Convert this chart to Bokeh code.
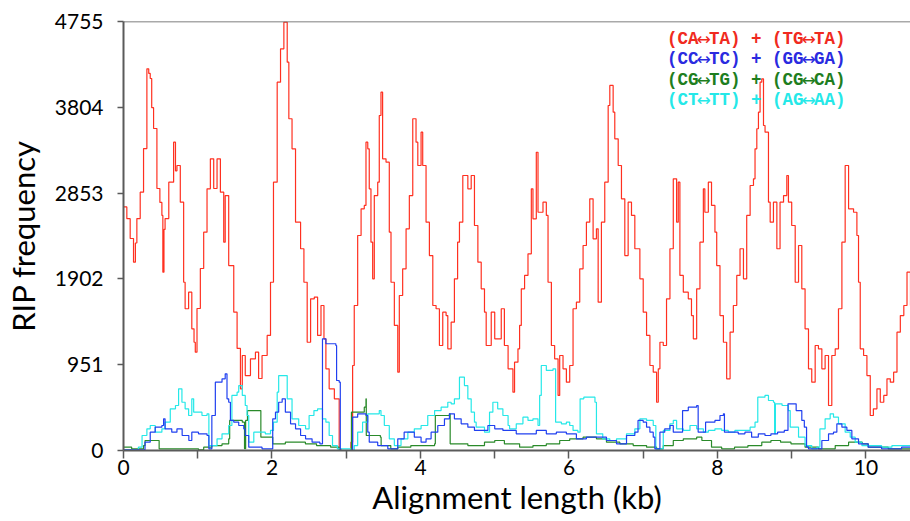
import math
from bokeh.plotting import figure
from bokeh.models import FixedTicker, Span, Range1d
from bokeh.core.properties import value
from bokeh.embed import file_html
from bokeh.resources import INLINE

# ---------------- data ----------------
red_x = [0.0, 0.045, 0.09, 0.135, 0.16, 0.18, 0.225, 0.27, 0.315, 0.34, 0.36, 0.38, 0.405, 0.45, 0.49,
         0.517, 0.53, 0.545, 0.56, 0.61, 0.675, 0.70, 0.72, 0.765, 0.81, 0.83, 0.877, 0.92, 0.95, 0.967,
         0.99, 1.035, 1.08, 1.125, 1.17, 1.215, 1.26, 1.305, 1.35, 1.37, 1.417, 1.485, 1.53, 1.575, 1.6,
         1.64, 1.71, 1.777, 1.82, 1.866, 1.935, 1.98, 2.02, 2.07, 2.115, 2.16, 2.205, 2.227, 2.27, 2.317,
         2.385, 2.43, 2.474, 2.52, 2.57, 2.614, 2.66, 2.70, 2.726, 2.77, 2.84, 2.905, 2.93, 3.04, 3.063,
         3.086, 3.108, 3.154, 3.2, 3.243, 3.266, 3.29, 3.31, 3.333, 3.356, 3.378, 3.424, 3.445, 3.468,
         3.49, 3.536, 3.58, 3.603, 3.648, 3.694, 3.715, 3.76, 3.806, 3.85, 3.896, 3.94, 3.964, 4.008,
         4.03, 4.075, 4.12, 4.166, 4.21, 4.255, 4.30, 4.345, 4.368, 4.413, 4.457, 4.50, 4.525, 4.57,
         4.638, 4.683, 4.727, 4.773, 4.818, 4.862, 4.885, 4.953, 5.0, 5.088, 5.13, 5.18, 5.245, 5.267,
         5.313, 5.335, 5.358, 5.402, 5.448, 5.493, 5.515, 5.56, 5.583, 5.65, 5.695, 5.718, 5.763, 5.807,
         5.853, 5.875, 5.92, 5.965, 6.01, 6.055, 6.10, 6.145, 6.19, 6.235, 6.28, 6.325, 6.37, 6.393,
         6.437, 6.482, 6.528, 6.55, 6.595, 6.617, 6.663, 6.707, 6.752, 6.797, 6.842, 6.887, 6.955, 7.0,
         7.045, 7.09, 7.135, 7.18, 7.203, 7.225, 7.27, 7.314, 7.36, 7.405, 7.45, 7.472, 7.494, 7.54,
         7.607, 7.65, 7.675, 7.72, 7.764, 7.81, 7.83, 7.877, 7.92, 7.966, 7.99, 8.034, 8.08, 8.124, 8.17,
         8.214, 8.26, 8.304, 8.35, 8.394, 8.44, 8.485, 8.506, 8.53, 8.552, 8.574, 8.597, 8.62, 8.641,
         8.687, 8.71, 8.754, 8.80, 8.843, 8.89, 8.934, 8.956, 9.0, 9.047, 9.092, 9.136, 9.18, 9.226,
         9.27, 9.316, 9.36, 9.406, 9.45, 9.496, 9.54, 9.586, 9.63, 9.676, 9.72, 9.766, 9.833, 9.878,
         9.9, 9.923, 9.968, 10.013, 10.058, 10.10, 10.148, 10.193, 10.24, 10.283, 10.328, 10.373,
         10.418, 10.463, 10.51, 10.553, 10.6, 10.65]
red_y = [2700, 2570, 2350, 2087, 2300, 2571, 2863, 3347, 4231, 4180, 4123, 3800, 3569, 2904, 2750,
         2605, 1976, 2450, 2571, 2974, 3417, 3100, 3159, 2752, 1865, 1571, 1755, 1349, 1200, 1090,
         1574, 2017, 2420, 2900, 3233, 2904, 3233, 2863, 2309, 2826, 2050, 1533, 1131, 684, 1053,
         831, 1016, 1090, 798, 1053, 1275, 1865, 2974, 4082, 4452, 4747, 4304, 3677, 3344, 2531,
         2236, 1865, 1200, 1681, 1700, 1275, 1607, 1238, 905, 684, 573, 19, 0, 0, 92,
         942, 1607, 2383, 2679, 2716, 3417, 3344, 2900, 2309, 1903, 2826, 2974, 3713, 3972,
         3233, 3196, 2420, 1865, 1386, 868, 1718, 2014, 2457, 2826, 3677, 3417, 3159, 3528,
         3159, 2531, 2161, 1607, 1571, 1164, 1533, 1496, 1127, 1422, 1903, 2309, 2531, 3048,
         2900, 3048, 2494, 2087, 1792, 1533, 1164, 1533, 1238, 1571, 1164, 905, 646, 979,
         1127, 1386, 1792, 1940, 2180, 2900, 2568, 3306, 2641, 2752, 2605, 1865, 1164, 1016,
         610, 1053, 905, 757, 942, 1571, 1644, 2014, 2272, 2531, 2790, 2346, 2457, 1644,
         2531, 2974, 3824, 4046, 3750, 3455, 3159, 2790, 2161, 2752, 2605, 2236, 1903, 1533,
         1275, 942, 868, 535, 905, 1200, 1164, 1681, 2236, 3011, 2531, 2974, 1940, 1755,
         1681, 1496, 1238, 1792, 2309, 2900, 2641, 2974, 2716, 2420, 2050, 1496, 1200, 794, 1311,
         1607, 1940, 2236, 1903, 2605, 2937, 3011, 3344, 3566, 3750, 4082, 4120, 3602, 3528,
         2752, 2531, 2752, 2236, 2752, 2826, 3048, 2752, 2494, 1865, 2272, 1792, 1349, 905,
         757, 1164, 1127, 905, 1053, 499, 1053, 1127, 1571, 2309, 3159, 2679, 2641, 2383,
         1865, 1127, 1053, 831, 388, 462, 684, 535, 610, 794, 757, 868,
         1311, 1496, 1607, 1976, 1607, 1650]

blue_x = [0.0, 0.25, 0.29, 0.36, 0.427, 0.517, 0.54, 0.56, 0.65, 0.72, 0.79, 0.88, 0.92, 1.01, 1.125,
          1.15, 1.19, 1.237, 1.327, 1.37, 1.394, 1.417, 1.44, 1.485, 1.552, 1.62, 1.64, 1.687, 1.866,
          2.0, 2.01, 2.047, 2.09, 2.137, 2.18, 2.25, 2.317, 2.385, 2.452, 2.54, 2.645, 2.68, 2.726,
          2.86, 2.87, 2.905, 2.92, 3.06, 3.086, 3.154, 3.266, 3.29, 3.31, 3.424, 3.56, 3.625, 3.694,
          3.78, 3.87, 3.917, 4.008, 4.075, 4.143, 4.233, 4.323, 4.39, 4.457, 4.548, 4.638, 4.727,
          4.818, 4.908, 5.0, 5.11, 5.29, 5.425, 5.56, 5.695, 5.83, 5.965, 6.10, 6.235, 6.37, 6.505,
          6.64, 6.775, 6.887, 6.93, 7.0, 7.045, 7.09, 7.135, 7.157, 7.203, 7.225, 7.29, 7.36, 7.405,
          7.494, 7.53, 7.607, 7.72, 7.74, 7.84, 7.966, 8.034, 8.08, 8.094, 8.19, 8.28, 8.37, 8.46,
          8.55, 8.64, 8.72, 8.81, 8.90, 8.95, 9.06, 9.136, 9.17, 9.2, 9.226, 9.34, 9.406, 9.496,
          9.563, 9.608, 9.676, 9.743, 9.81, 9.9, 10.03, 10.21, 10.48, 10.65]
blue_y = [8, 8, 92, 203, 258, 277, 351, 240, 203, 240, 166, 111, 203, 185, 166,
          19, 388, 757, 794, 850, 573, 535, 333, 314, 277, 240, 166, 37, 19,
          19, 351, 425, 535, 573, 425, 296, 240, 166, 129, 92, 74, 1238, 1183,
          1164, 776, 757, 0, 0, 369, 407, 388, 203, 92, 55, 19, 19, 129,
          203, 203, 148, 92, 129, 203, 277, 351, 407, 351, 296, 258, 222,
          222, 277, 240, 222, 185, 185, 222, 185, 203, 185, 129, 148, 148, 111,
          74, 166, 203, 333, 314, 258, 203, 148, 19, 19, 203, 240, 277, 203,
          203, 443, 480, 499, 203, 314, 333, 388, 407, 203, 203, 185, 203, 148,
          185, 166, 185, 203, 222, 517, 443, 333, 258, 40, 19, 19, 111, 185,
          203, 296, 258, 222, 129, 74, 37, 19, 37, 37]

green_x = [0.0, 0.11, 0.27, 0.29, 0.47, 0.48, 1.01, 1.08, 1.19, 1.327, 1.417, 1.43, 1.60, 1.63, 1.645,
           1.67, 1.85, 2.0, 2.01, 2.18, 2.45, 2.6, 2.79, 2.905, 3.06, 3.07, 3.243, 3.266, 3.27, 3.46,
           3.47, 3.60, 3.694, 3.87, 4.19, 4.20, 4.37, 4.39, 4.40, 4.638, 4.862, 5.0, 5.13, 5.335,
           5.515, 5.695, 5.875, 6.01, 6.19, 6.37, 6.505, 6.685, 6.865, 7.045, 7.18, 7.27, 7.405,
           7.54, 7.72, 7.79, 7.92, 8.057, 8.23, 8.41, 8.597, 8.72, 8.85, 8.99, 9.18, 9.36, 9.586,
           9.766, 9.95, 10.03, 10.3, 10.65]
green_y = [37, 19, 55, 111, 111, 19, 8, 37, 55, 74, 129, 333, 314, 20, 333,
           443, 148, 148, 74, 92, 74, 55, 37, 0, 0, 425, 480, 573, 166, 148,
           55, 19, 37, 55, 74, 388, 388, 407, 74, 55, 92, 111, 74, 37,
           55, 74, 111, 129, 148, 129, 92, 74, 55, 37, 19, 55, 111,
           129, 148, 111, 37, 19, 37, 55, 92, 111, 92, 74, 37, 19, 55,
           92, 74, 37, 19, 19]

cyan_x = [0.0, 0.2, 0.25, 0.315, 0.36, 0.427, 0.517, 0.56, 0.63, 0.70, 0.742, 0.787, 0.83, 0.877, 0.92,
          0.945, 1.01, 1.057, 1.125, 1.15, 1.19, 1.26, 1.327, 1.417, 1.46, 1.53, 1.552, 1.60, 1.64,
          1.664, 1.687, 1.755, 1.82, 1.91, 1.98, 2.02, 2.07, 2.09, 2.18, 2.205, 2.25, 2.27, 2.36,
          2.452, 2.50, 2.565, 2.614, 2.66, 2.68, 2.726, 2.77, 2.815, 2.88, 3.06, 3.108, 3.154, 3.22,
          3.29, 3.378, 3.445, 3.468, 3.513, 3.58, 3.648, 3.738, 3.83, 3.917, 4.008, 4.098, 4.19,
          4.278, 4.368, 4.413, 4.457, 4.525, 4.592, 4.638, 4.683, 4.727, 4.75, 4.862, 4.93, 4.975,
          5.04, 5.11, 5.18, 5.20, 5.29, 5.38, 5.448, 5.515, 5.583, 5.605, 5.627, 5.695, 5.785, 5.82,
          5.898, 5.965, 6.01, 6.055, 6.12, 6.15, 6.20, 6.29, 6.35, 6.37, 6.455, 6.55, 6.64, 6.775,
          6.887, 6.955, 7.045, 7.135, 7.17, 7.22, 7.27, 7.36, 7.405, 7.45, 7.54, 7.63, 7.72, 7.81,
          7.877, 7.966, 8.057, 8.146, 8.235, 8.325, 8.44, 8.506, 8.543, 8.64, 8.687, 8.754, 8.77,
          8.78, 8.87, 8.934, 8.956, 8.98, 9.092, 9.18, 9.27, 9.34, 9.38, 9.45, 9.518, 9.563, 9.63,
          9.72, 9.788, 9.855, 9.945, 10.08, 10.21, 10.35, 10.65]
cyan_y = [8, 37, 166, 240, 277, 203, 240, 314, 462, 499, 684, 535, 462, 388, 573,
          425, 425, 388, 407, 55, 55, 129, 185, 277, 610, 646, 720, 610, 499,
          388, 92, 203, 203, 185, 222, 314, 646, 831, 831, 573, 573, 351, 277,
          240, 388, 443, 462, 462, 351, 314, 166, 55, 19, 0, 55, 203, 314,
          407, 407, 443, 388, 277, 129, 55, 129, 203, 240, 277, 388, 443,
          480, 535, 517, 573, 813, 720, 573, 425, 314, 258, 203, 425, 535,
          462, 388, 277, 240, 296, 369, 333, 351, 277, 610, 942, 887, 905, 314,
          296, 314, 277, 222, 203, 573, 591, 591, 535, 185, 129, 111, 129, 185,
          240, 351, 333, 277, 19, 19, 222, 296, 333, 240, 222, 277, 240, 203,
          222, 240, 222, 203, 222, 222, 258, 314, 591, 610, 554, 535, 185,
          517, 499, 499, 443, 258, 148, 55, 19, 37, 240, 351, 407, 369, 296,
          203, 148, 92, 55, 55, 37, 55, 55]

y_ticks = [0, 951, 1902, 2853, 3804, 4755]
x_ticks = [0, 1, 2, 3, 4, 5, 6, 7, 8, 9, 10]
x_tick_labels = ["0", "", "2", "", "4", "", "6", "", "8", "", "10"]

# legend rows: (left pair, right pair) of each series, e.g. (CA<->TA) + (TG<->TA)
legend_pairs = [(("CA", "TA"), ("TG", "TA")),
                (("CC", "TC"), ("GG", "GA")),
                (("CG", "TG"), ("CG", "CA")),
                (("CT", "TT"), ("AG", "AA"))]
legend_colors = ["#f02a20", "#2a2ae0", "#1e7e1e", "#25e8e8"]
line_colors = ["#ff3020", "#2040f0", "#2a8a2a", "#25e8e8"]

# ---------------- figure ----------------
X0, X1 = 0, 10.6
p = figure(width=910, height=521, output_backend="svg", toolbar_location=None,
           x_range=Range1d(X0, X1), y_range=Range1d(0, 4755),
           min_border_left=123, min_border_right=0, min_border_top=21, min_border_bottom=71)
p.outline_line_color = None
p.grid.visible = False
p.background_fill_color = "white"

p.step(red_x, red_y, mode="after", line_color=line_colors[0], line_width=1.2)
p.step(green_x, green_y, mode="after", line_color=line_colors[2], line_width=1.2)
p.step(cyan_x, cyan_y, mode="after", line_color=line_colors[3], line_width=1.2)
p.step(blue_x, blue_y, mode="after", line_color=line_colors[1], line_width=1.2)

# axes
axis_col = "#5a5a5a"
for ax in (p.xaxis[0], p.yaxis[0]):
    ax.axis_line_color = axis_col
    ax.axis_line_width = 2
    ax.major_tick_line_color = axis_col
    ax.major_tick_line_width = 1.5
    ax.major_tick_in = 0
    ax.minor_tick_line_color = None
    ax.major_label_text_font = "Lato"
    ax.major_label_text_font_size = "21px"
    ax.major_label_text_color = "black"
    ax.axis_label_text_font = "Lato"
    ax.axis_label_text_font_size = "31px"
    ax.axis_label_text_font_style = "normal"
    ax.axis_label_text_color = "black"

p.xaxis.ticker = FixedTicker(ticks=x_ticks)
p.xaxis.major_label_overrides = {t: l for t, l in zip(x_ticks, x_tick_labels)}
p.xaxis.major_tick_out = 8
p.xaxis.major_label_standoff = 1
p.xaxis.axis_label = "Alignment length (kb)"
p.xaxis.axis_label_standoff = 0

p.yaxis.ticker = FixedTicker(ticks=y_ticks)
p.yaxis.major_tick_out = 6
p.yaxis.major_label_standoff = 14
p.yaxis.axis_label = "RIP frequency"
p.yaxis.axis_label_standoff = 10

p.add_layout(Span(location=4755, dimension="width", line_color="#555555", line_width=1.5))

# legend text: monospace columns, arrows drawn in a font with a full-width arrow glyph
px_per_unit = 787 / (X1 - X0)
char_w = 10.5 / px_per_unit          # one monospace column in data units
leg_x0 = 7.32
leg_y = [4563, 4342, 4109, 3887]
txt_x, txt_y, txt_s, txt_c = [], [], [], []
arr_x, arr_y, arr_c = [], [], []
for (l, r), yy, col in zip(legend_pairs, leg_y, legend_colors):
    pieces = [(0, "(" + l[0]), (4, l[1] + ") + (" + r[0]), (14, r[1] + ")")]
    for c, s in pieces:
        txt_x.append(leg_x0 + c * char_w); txt_y.append(yy); txt_s.append(s); txt_c.append(col)
    for c in (3, 13):
        arr_x.append(leg_x0 + (c + 0.5) * char_w); arr_y.append(yy); arr_c.append(col)

p.text(x=txt_x, y=txt_y, text=txt_s, text_color=txt_c,
       text_font=value("Liberation Mono"), text_font_style="bold", text_font_size="17.5px",
       text_align="left", text_baseline="middle")
p.text(x=arr_x, y=arr_y, text=["\u2194"] * len(arr_x), text_color=arr_c,
       text_font=value("DejaVu Sans"), text_font_style="normal", text_font_size="17px",
       text_align="center", text_baseline="middle")

open("out.html", "w").write(file_html(p, INLINE))
